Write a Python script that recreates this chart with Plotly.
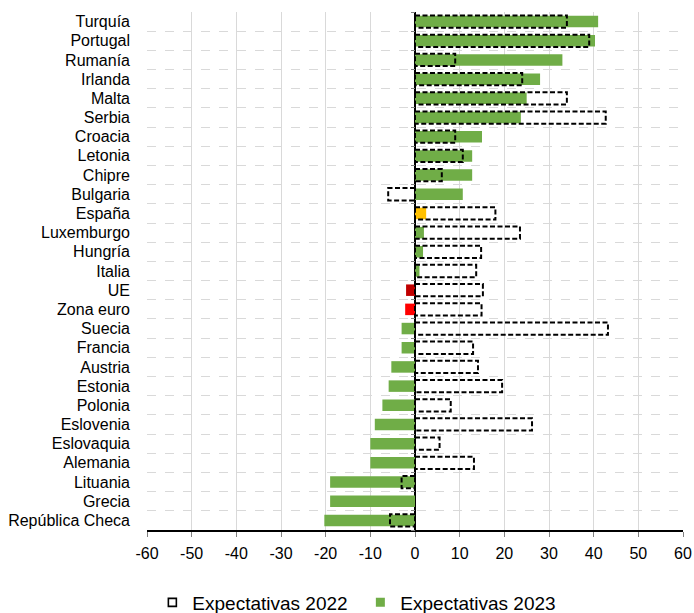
import plotly.graph_objects as go

countries = ["Turquía", "Portugal", "Rumanía", "Irlanda", "Malta", "Serbia", "Croacia",
             "Letonia", "Chipre", "Bulgaria", "España", "Luxemburgo", "Hungría", "Italia",
             "UE", "Zona euro", "Suecia", "Francia", "Austria", "Estonia", "Polonia",
             "Eslovenia", "Eslovaquia", "Alemania", "Lituania", "Grecia", "República Checa"]
exp2023 = [41, 40.3, 33, 28, 25, 23.7, 15, 12.8, 12.8, 10.7, 2.5, 2, 1.8, 1,
           -2, -2.2, -3, -3, -5.3, -5.9, -7.3, -9, -10, -10, -19, -19, -20.3]
exp2022 = [34, 39, 9, 24, 34, 42.7, 9, 10.7, 6, -6, 18, 23.5, 14.8, 13.7,
           15.2, 14.9, 43.2, 13, 14.1, 19.5, 8, 26.2, 5.5, 13.2, -3, 0, -5.6]
xticks = list(range(-60, 61, 10))
xticklabels = [str(v) for v in xticks]

GREEN = "#70AD47"
special = {"España": "#FFC000", "UE": "#C00000", "Zona euro": "#FF0000"}
colors = [special.get(c, GREEN) for c in countries]
idx = list(range(len(countries)))
bounds = [i - 0.5 for i in range(len(countries) + 1)]

FONT = "Liberation Sans, Arial, sans-serif"

fig = go.Figure()
fig.add_trace(go.Bar(y=idx, x=exp2023, orientation="h", width=0.6,
                     marker=dict(color=colors, line=dict(width=0)),
                     name="Expectativas 2023", showlegend=False))

# dashed outline rectangles for 2022
h = 0.32
xs, ys = [], []
for i, v in zip(idx, exp2022):
    if v == 0:
        continue
    xs += [0, v, v, 0, 0, None]
    ys += [i - h, i - h, i + h, i + h, i - h, None]
fig.add_trace(go.Scatter(x=xs, y=ys, mode="lines",
                         line=dict(color="black", width=2, dash="5px,2.5px"),
                         showlegend=False, hoverinfo="skip"))

# legend entries
fig.add_trace(go.Scatter(x=[None], y=[None], mode="markers", name="Expectativas 2022",
                         marker=dict(symbol="square-open", color="black", size=8,
                                     line=dict(width=1.6)), yaxis="y2"))
fig.add_trace(go.Scatter(x=[None], y=[None], mode="markers", name="Expectativas 2023",
                         marker=dict(symbol="square", color=GREEN, size=9)))

fig.update_layout(
    width=694, height=613,
    margin=dict(l=147, r=11, t=12, b=83, autoexpand=False),
    plot_bgcolor="white", paper_bgcolor="white",
    font=dict(family=FONT, size=16, color="black"),
    barmode="overlay",
    legend=dict(orientation="h", x=0.01, xanchor="left", y=-0.14, yanchor="middle",
                font=dict(size=19), itemwidth=30, entrywidth=163),
    xaxis=dict(range=[-60, 60], tickvals=xticks, ticktext=xticklabels,
               showgrid=True, gridcolor="#d9d9d9",
               gridwidth=1, zeroline=True, zerolinecolor="black", zerolinewidth=1.5,
               showline=True, linecolor="black", linewidth=1.5, automargin=False,
               ticks="outside", ticklen=5, tickcolor="#808080", ticklabelstandoff=3,
               tickfont=dict(size=16)),
    yaxis=dict(range=[len(countries) - 0.5, -0.5], tickvals=idx, ticktext=countries,
               showgrid=False, zeroline=False, ticks="", tickfont=dict(size=16),
               automargin=False, ticklabelstandoff=16,
               minor=dict(tickvals=bounds, showgrid=True, gridcolor="#d9d9d9",
                          griddash="dash", gridwidth=1, ticks="")),
    yaxis2=dict(matches="y", overlaying="y", anchor="free", position=0.5,
                tickvals=bounds, ticks="outside", ticklen=4, tickcolor="#808080",
                showticklabels=False, showgrid=False, zeroline=False, showline=False),
)

fig.write_html("out.html", config={"displayModeBar": False},
               post_script="document.body.style.margin='0';")
